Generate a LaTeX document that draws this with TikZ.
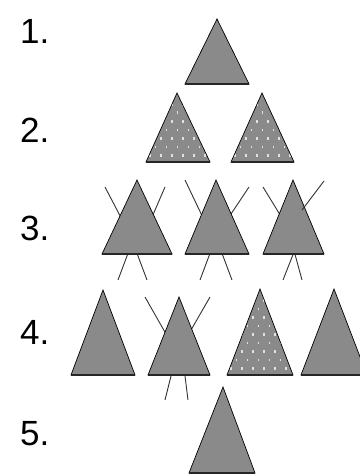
\documentclass[tikz,border=0pt]{standalone}
\usepackage{fontspec}
\setmainfont{Liberation Sans}
\usetikzlibrary{positioning}

\begin{document}
\begin{tikzpicture}[
  x=1pt, y=-1pt,
  tri/.style={draw=black, line width=0.7pt, fill=black!46, line join=miter},
  trifill/.style={fill=black!46},
  base/.style={draw=black!85, line width=2.4pt},
  strand/.style={draw=black!80, line width=0.9pt},
  speck/.style={fill=white!88!black},
  num/.style={font=\fontsize{35}{35}\selectfont, anchor=west, inner sep=0pt}
]
\useasboundingbox[fill=white] (0,0) rectangle (359,476);

% row numbers
\node[num] (n1) at (20,31) {1.};
\node[num] (n2) at (20,130) {2.};
\node[num] (n3) at (20,228) {3.};
\node[num] (n4) at (20,332) {4.};
\node[num] (n5) at (20,434) {5.};

% strands behind the triangles
\foreach \sx/\sy/\ex/\ey in {105/187/128/231, 165/187/146/231, 118/280/130/248, 147/280/135/248,
    185/180/205/222, 249/187/227/220, 200/280/212/248, 232/280/220/248,
    263/187/282/218, 283/280/296/247, 302/280/293/247,
    145/297/170/341, 210/297/187/337, 165/400/173/368, 188/400/184/368}
  \draw[strand] (\sx,\sy) -- (\ex,\ey);

% plain triangles
\foreach \ax/\ay/\l/\r/\b in {217/19/185/249/84,
    137/180/102/172/254, 216/180/185/249/254, 293/180/263/324/254,
    103/290/71/135/375, 179/297/148/210/375, 334/289/301/367/375,
    223/387/189/255/473} {
  \draw[tri] (\ax,\ay) -- (\l,\b) -- (\r,\b) -- cycle;
  \draw[base] (\l,\b) -- (\r,\b);
}

% speckled triangles
\foreach \ax/\ay/\l/\r/\b in {177/93/146/210/162, 262/93/231/294/162, 260/289/227/293/375} {
  \begin{scope}
    \clip (\ax,\ay) -- (\l,\b) -- (\r,\b) -- cycle;
    \fill[trifill] (\l,\ay) rectangle (\r,\b);
    \foreach \i in {0,...,10}
      \foreach \j in {0,...,6}
        \fill[speck] ({\l+3+11*\j+mod(\i,2)*5.5},{\ay+10+8.5*\i}) rectangle ++(1.6,2.8);
  \end{scope}
  \draw[tri, fill=none] (\ax,\ay) -- (\l,\b) -- (\r,\b) -- cycle;
  \draw[base] (\l,\b) -- (\r,\b);
}

% strand crossing over the last triangle of row 3
\draw[strand] (324,181) -- (302,210);

\end{tikzpicture}
\end{document}
